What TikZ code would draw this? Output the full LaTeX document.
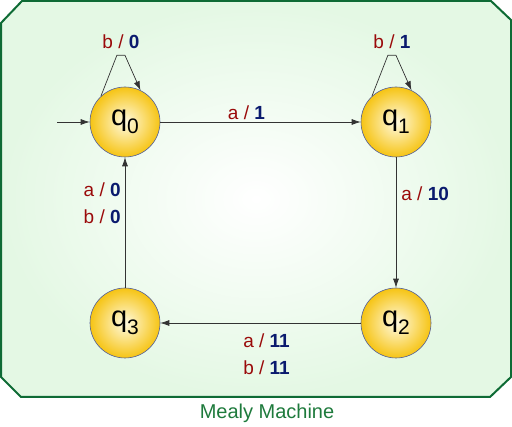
\documentclass[tikz,border=0pt]{standalone}
\usepackage{fontspec}
\setmainfont{Liberation Sans}
\usetikzlibrary{arrows.meta}

\definecolor{frame}{HTML}{0E6B35}
\definecolor{paper}{HTML}{E4F8E4}
\definecolor{gold}{HTML}{F6C414}
\definecolor{cream}{HTML}{FFFAE0}
\definecolor{inred}{HTML}{9A0A0A}
\definecolor{outblue}{HTML}{0A1A6E}
\definecolor{caption}{HTML}{1E7A3C}

\newcommand{\io}[2]{{\color{inred}#1 / }{\color{outblue}\bfseries #2}}
\newcommand{\qname}[1]{{\fontsize{29}{29}\selectfont q\raisebox{-8pt}{\fontsize{21}{21}\selectfont #1}}}

\tikzset{
	state/.style={circle, minimum size=70pt, inner sep=0pt, draw=outblue!70, line width=0.6pt,
		inner color=cream, outer color=gold},
	trans/.style={draw=black!80, line width=0.7pt, -{Latex[length=9pt,width=6pt]}},
	lbl/.style={font=\fontsize{19}{27}\selectfont, inner sep=2pt}
}

\begin{document}
\begin{tikzpicture}[x=1pt,y=-1pt]
		\useasboundingbox (0,0) rectangle (512,427);
		\shade [inner color=white, outer color=paper] (1,23) -- (22,1) -- (491,1) -- (511,20) -- (511,377) -- (490,397) -- (21,397) -- (1,377) -- cycle;
		\draw [frame, line width=2pt] (1,23) -- (22,1) -- (491,1) -- (511,20) -- (511,377) -- (490,397) -- (21,397) -- (1,377) -- cycle;

		\node (q0) [state] at (125,122) {\qname{0}};
		\node (q1) [state] at (396,122) {\qname{1}};
		\node (q2) [state] at (396,323) {\qname{2}};
		\node (q3) [state] at (125,323) {\qname{3}};
		\coordinate (start) at (57,122);

		\draw [trans] (start) -- (q0);
		\draw [trans] (q0.133) -- ++(16,-41) -- node (l00) [lbl, above=4pt] {\io{b}{0}} ++(8,0) -- (q0.64);
		\draw [trans] (q1.133) -- ++(16,-41) -- node (l11) [lbl, above=4pt] {\io{b}{1}} ++(8,0) -- (q1.64);
		\draw [trans] (q0) -- node (l01) [lbl, pos=0.43, above=0pt] {\io{a}{1}} (q1);
		\draw [trans] (q1) -- node (l12) [lbl, pos=0.28, right=3pt] {\io{a}{10}} (q2);
		\draw [trans] (q2) -- node (l23) [lbl, pos=0.47, below=8pt, align=center] {\io{a}{11}\\\io{b}{11}} (q3);
		\draw [trans] (q3) -- node (l30) [lbl, pos=0.65, left=2pt, align=right] {\io{a}{0}\\\io{b}{0}} (q0);

		\node (title) [caption, font=\fontsize{20}{24}\selectfont] at (267,413) {Mealy Machine};
	\end{tikzpicture}
\end{document}
